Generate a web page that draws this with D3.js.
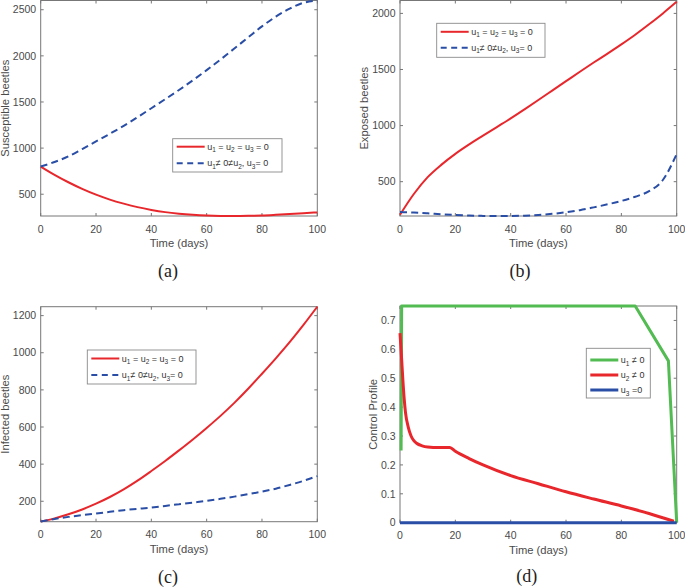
<!DOCTYPE html>
<html><head><meta charset="utf-8">
<script src="https://cdn.jsdelivr.net/npm/d3@7"></script>
<style>
body{margin:0;background:#fff}
svg{display:block}
</style>
</head><body>
<svg id="chart" width="685" height="587"></svg>
<script>
// ---------- DATA ----------
const timeDays = [0,5,10,15,20,25,30,35,40,45,50,55,60,65,70,75,80,85,90,95,100];
const xTicks = [0,20,40,60,80,100];

// (a) Susceptible beetles
const susNoControl = [800,710,630,558,495,442,398,360,330,306,289,277,269,265,264,266,270,277,285,294,303];
const susControl   = [800,850,910,990,1072,1155,1241,1335,1432,1530,1630,1735,1845,1960,2079,2200,2320,2425,2511,2575,2600];
const susTicks = [500,1000,1500,2000,2500];

// (b) Exposed beetles
const expNoControl = [205,390,540,652,748,832,910,987,1064,1145,1228,1312,1396,1480,1562,1642,1724,1810,1903,2000,2104];
const expControl   = [229,225,218,210,203,198,195,194,194,197,203,213,227,246,271,298,328,366,415,515,747];
const expTicks = [500,1000,1500,2000];

// (c) Infected beetles
const infNoControl = [91,108,130,156,187,223,264,311,363,417,474,533,595,660,730,806,887,970,1057,1150,1248];
const infControl   = [91,105,116,125,134,143,152,159,166,175,184,193,202,213,225,238,252,268,288,310,336];
const infTicks = [200,400,600,800,1000,1200];

// (d) Control profile
const u1Time  = [0.4,0.6,85,97,100];
const u1Value = [0.25,0.75,0.75,0.56,0];
const u2Time  = [0,0.5,1,1.5,2,3,4,5,6,8,10,14,18,20,25,30,40,50,60,70,80,90,99];
const u2Value = [0.656,0.58,0.50,0.43,0.38,0.33,0.30,0.284,0.275,0.266,0.262,0.26,0.26,0.247,0.222,0.20,0.163,0.135,0.107,0.082,0.058,0.032,0.005];
const u3Time  = [0,100];
const u3Value = [0,0];
const ctrlTicks = [0,0.1,0.2,0.3,0.4,0.5,0.6,0.7];

const legendNoCtrl = [["u",""],["1","s"],[" = u",""],["2","s"],[" = u",""],["3","s"],[" = 0",""]];
const legendCtrl   = [["u",""],["1","s"],["\u2260 0\u2260u",""],["2","s"],[", u",""],["3","s"],["= 0",""]];
const legendU1 = [["u",""],["1","s"],[" \u2260 0",""]];
const legendU2 = [["u",""],["2","s"],[" \u2260 0",""]];
const legendU3 = [["u",""],["3","s"],[" =0",""]];

// ---------- STYLE ----------
const RED = "#e8272c", BLUE = "#2a4ea6", GREEN = "#52bb52";
const AXIS = "#777", TXT = "#4a4a4a";
const SANS = "'Liberation Sans',Arial,Helvetica,sans-serif";
const SERIF = "'Liberation Serif','Times New Roman',serif";

const svg = d3.select("#chart");

function panel(cfg){
  const x = d3.scaleLinear().domain([0,100]).range([cfg.x0,cfg.x1]);
  const y = d3.scaleLinear().domain(cfg.ydom).range([cfg.y1,cfg.y0]);
  const g = svg.append("g").style("font-family",SANS);
  g.append("rect").attr("x",cfg.x0).attr("y",cfg.y0).attr("width",cfg.x1-cfg.x0).attr("height",cfg.y1-cfg.y0)
    .attr("fill","none").attr("stroke",AXIS).attr("stroke-width",1);
  const tl = 3;
  xTicks.forEach(v=>{
    const px = x(v);
    g.append("line").attr("x1",px).attr("x2",px).attr("y1",cfg.y1).attr("y2",cfg.y1-tl).attr("stroke",AXIS);
    g.append("line").attr("x1",px).attr("x2",px).attr("y1",cfg.y0).attr("y2",cfg.y0+tl).attr("stroke",AXIS);
    g.append("text").attr("x",px).attr("y",cfg.y1+16.5).attr("text-anchor","middle")
      .attr("font-size",10.5).attr("fill",TXT).text(v);
  });
  cfg.yticks.forEach(v=>{
    const py = y(v);
    g.append("line").attr("x1",cfg.x0).attr("x2",cfg.x0+tl).attr("y1",py).attr("y2",py).attr("stroke",AXIS);
    g.append("line").attr("x1",cfg.x1).attr("x2",cfg.x1-tl).attr("y1",py).attr("y2",py).attr("stroke",AXIS);
    g.append("text").attr("x",cfg.x0-4.5).attr("y",py+3.7).attr("text-anchor","end")
      .attr("font-size",10.5).attr("fill",TXT).text(v);
  });
  g.append("text").attr("x",(cfg.x0+cfg.x1)/2).attr("y",cfg.y1+31).attr("text-anchor","middle")
    .attr("font-size",11.2).attr("fill",TXT).text("Time (days)");
  g.append("text").attr("transform",`translate(${cfg.ylabX},${(cfg.y0+cfg.y1)/2}) rotate(-90)`)
    .attr("text-anchor","middle").attr("font-size",11.2).attr("fill",TXT).text(cfg.ylabel);
  g.append("text").attr("x",cfg.capX).attr("y",cfg.capY).attr("text-anchor","middle")
    .style("font-family",SERIF).attr("font-size",18).attr("fill","#222").text(cfg.caption);
  cfg.series.forEach(s=>{
    const line = d3.line().x(d=>x(d[0])).y(d=>y(d[1])).curve(s.curve||d3.curveMonotoneX);
    g.append("path").datum(d3.zip(s.t,s.v)).attr("d",line).attr("fill","none")
      .attr("stroke",s.color).attr("stroke-width",s.w)
      .attr("stroke-dasharray",s.dash||null).attr("stroke-linejoin","round");
  });
  const L = cfg.legend;
  const lg = g.append("g");
  lg.append("rect").attr("x",L.x).attr("y",L.y).attr("width",L.w).attr("height",L.h)
    .attr("fill","#fff").attr("stroke","#8a8a8a").attr("stroke-width",0.9);
  L.rows.forEach((r,i)=>{
    const ry = L.y + L.first + i*L.step;
    lg.append("line").attr("x1",L.x+4).attr("x2",L.x+L.sw).attr("y1",ry).attr("y2",ry)
      .attr("stroke",r.color).attr("stroke-width",r.w).attr("stroke-dasharray",r.dash||null);
    const t = lg.append("text").attr("x",L.x+L.sw+2.5).attr("y",ry+3).attr("font-size",9).attr("fill","#333");
    let pending = 0;
    r.label.forEach(p=>{
      if(p[1]==="s"){
        t.append("tspan").attr("font-size",6.5).attr("dy",2.5).text(p[0]);
        pending = -2.5;
      } else {
        t.append("tspan").attr("dy",pending).text(p[0]);
        pending = 0;
      }
    });
  });
}

const dashed = "7,4.2";
panel({x0:40.7,x1:317.3,y0:0.5,y1:216,ydom:[264,2600],yticks:susTicks,ylabel:"Susceptible beetles",ylabX:9,
  caption:"(a)",capX:168,capY:277,
  series:[{t:timeDays,v:susNoControl,color:RED,w:2},{t:timeDays,v:susControl,color:BLUE,w:2,dash:dashed}],
  legend:{x:172.7,y:138.7,w:109.3,h:33.3,first:8,step:16.6,sw:32,
    rows:[{color:RED,w:2,label:legendNoCtrl},{color:BLUE,w:2,dash:"6,4.5",label:legendCtrl}]}});

panel({x0:400,x1:676.7,y0:0.5,y1:216,ydom:[194,2115],yticks:expTicks,ylabel:"Exposed beetles",ylabX:368,
  caption:"(b)",capX:520,capY:277,
  series:[{t:timeDays,v:expNoControl,color:RED,w:2},{t:timeDays,v:expControl,color:BLUE,w:2,dash:dashed}],
  legend:{x:436.7,y:23.3,w:108.3,h:34,first:8.5,step:16,sw:32,
    rows:[{color:RED,w:2,label:legendNoCtrl},{color:BLUE,w:2,dash:"6,4.5",label:legendCtrl}]}});

panel({x0:40.7,x1:317.3,y0:306.7,y1:521.7,ydom:[90,1248],yticks:infTicks,ylabel:"Infected beetles",ylabX:9,
  caption:"(c)",capX:168,capY:583,
  series:[{t:timeDays,v:infNoControl,color:RED,w:2},{t:timeDays,v:infControl,color:BLUE,w:2,dash:dashed}],
  legend:{x:87.3,y:350,w:108.7,h:34,first:8.5,step:16.5,sw:32,
    rows:[{color:RED,w:2,label:legendNoCtrl},{color:BLUE,w:2,dash:"6,4.5",label:legendCtrl}]}});

panel({x0:400,x1:676.7,y0:306,y1:522.7,ydom:[0,0.75],yticks:ctrlTicks,ylabel:"Control Profile",ylabX:377,
  caption:"(d)",capX:526.7,capY:582,
  series:[{t:u1Time,v:u1Value,color:GREEN,w:3,curve:d3.curveLinear},
          {t:u2Time,v:u2Value,color:RED,w:3},
          {t:u3Time,v:u3Value,color:BLUE,w:3,curve:d3.curveLinear}],
  legend:{x:586.3,y:348.3,w:64,h:49.7,first:11.7,step:15,sw:32,
    rows:[{color:GREEN,w:3,label:legendU1},{color:RED,w:3,label:legendU2},{color:BLUE,w:3,label:legendU3}]}});
</script>
</body></html>
